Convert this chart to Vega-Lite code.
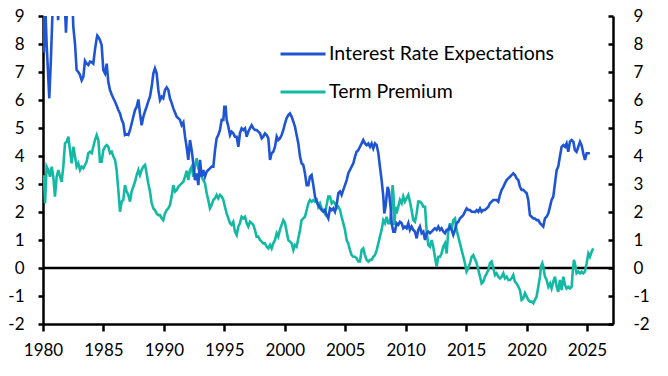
{
  "$schema": "https://vega.github.io/schema/vega-lite/v6.json",
  "width": 570,
  "height": 308,
  "autosize": {"type": "none"},
  "padding": {"left": 43, "top": 16, "right": 55, "bottom": 52},
  "background": "white",
  "config": {
    "view": {"stroke": null},
    "font": "Lato",
    "axis": {
      "grid": false,
      "title": null,
      "domainColor": "#000000",
      "domainWidth": 2.5,
      "tickColor": "#000000",
      "tickWidth": 2.5,
      "labelColor": "#000000",
      "labelFont": "Lato",
      "labelFontSize": 17
    },
    "legend": {
      "orient": "none",
      "legendX": 236,
      "legendY": 14,
      "title": null,
      "padding": 0,
      "symbolType": "stroke",
      "symbolSize": 2025,
      "symbolStrokeWidth": 3,
      "rowPadding": 4,
      "labelOffset": 2,
      "labelLimit": 0,
      "labelFont": "Lato",
      "labelFontSize": 19.5,
      "labelColor": "#000000"
    }
  },
  "datasets": {
    "ire": [
      {"year": 1980.00, "value": 9.6}, {"year": 1980.08, "value": 7.7}, {"year": 1980.17, "value": 9.6}, {"year": 1980.30, "value": 8.0},
      {"year": 1980.52, "value": 6.06}, {"year": 1980.65, "value": 7.4}, {"year": 1980.80, "value": 9.3}, {"year": 1980.95, "value": 11.0},
      {"year": 1981.15, "value": 10.0}, {"year": 1981.25, "value": 8.85}, {"year": 1981.35, "value": 10.5}, {"year": 1981.55, "value": 12.0},
      {"year": 1981.75, "value": 10.0}, {"year": 1981.90, "value": 8.4}, {"year": 1981.98, "value": 9.2}, {"year": 1982.10, "value": 10.5},
      {"year": 1982.30, "value": 10.0}, {"year": 1982.45, "value": 9.3}, {"year": 1982.51, "value": 8.6}, {"year": 1982.65, "value": 8.0},
      {"year": 1982.78, "value": 7.07}, {"year": 1982.92, "value": 7.0}, {"year": 1983.06, "value": 6.9}, {"year": 1983.20, "value": 6.7},
      {"year": 1983.34, "value": 6.83}, {"year": 1983.47, "value": 7.4}, {"year": 1983.61, "value": 7.3}, {"year": 1983.75, "value": 7.25},
      {"year": 1983.89, "value": 7.37}, {"year": 1984.03, "value": 7.35}, {"year": 1984.16, "value": 7.3}, {"year": 1984.30, "value": 7.8},
      {"year": 1984.44, "value": 8.2}, {"year": 1984.49, "value": 8.3}, {"year": 1984.58, "value": 8.25}, {"year": 1984.71, "value": 8.14},
      {"year": 1984.85, "value": 7.96}, {"year": 1984.99, "value": 7.07}, {"year": 1985.13, "value": 6.95}, {"year": 1985.27, "value": 7.3},
      {"year": 1985.40, "value": 6.65}, {"year": 1985.54, "value": 6.36}, {"year": 1985.68, "value": 6.2}, {"year": 1985.82, "value": 6.06},
      {"year": 1985.96, "value": 5.94}, {"year": 1986.09, "value": 5.8}, {"year": 1986.23, "value": 5.64}, {"year": 1986.37, "value": 5.52},
      {"year": 1986.51, "value": 5.29}, {"year": 1986.64, "value": 5.17}, {"year": 1986.78, "value": 4.75}, {"year": 1986.92, "value": 4.78},
      {"year": 1987.06, "value": 4.75}, {"year": 1987.20, "value": 4.93}, {"year": 1987.33, "value": 5.15}, {"year": 1987.47, "value": 5.4},
      {"year": 1987.61, "value": 5.64}, {"year": 1987.75, "value": 5.76}, {"year": 1987.89, "value": 6.02}, {"year": 1988.02, "value": 5.52},
      {"year": 1988.16, "value": 5.1}, {"year": 1988.30, "value": 5.4}, {"year": 1988.44, "value": 5.6}, {"year": 1988.57, "value": 5.76},
      {"year": 1988.71, "value": 5.95}, {"year": 1988.85, "value": 6.12}, {"year": 1988.99, "value": 6.48}, {"year": 1989.13, "value": 6.95},
      {"year": 1989.26, "value": 7.13}, {"year": 1989.40, "value": 6.95}, {"year": 1989.54, "value": 6.36}, {"year": 1989.68, "value": 6.0},
      {"year": 1989.82, "value": 6.12}, {"year": 1989.95, "value": 6.06}, {"year": 1990.09, "value": 6.36}, {"year": 1990.23, "value": 6.45},
      {"year": 1990.37, "value": 6.36}, {"year": 1990.50, "value": 6.06}, {"year": 1990.64, "value": 5.9}, {"year": 1990.78, "value": 5.7},
      {"year": 1990.92, "value": 5.55}, {"year": 1991.06, "value": 5.4}, {"year": 1991.19, "value": 5.35}, {"year": 1991.33, "value": 5.29},
      {"year": 1991.47, "value": 5.1}, {"year": 1991.61, "value": 5.2}, {"year": 1991.75, "value": 4.69}, {"year": 1991.88, "value": 4.33},
      {"year": 1992.02, "value": 3.86}, {"year": 1992.16, "value": 4.57}, {"year": 1992.30, "value": 4.21}, {"year": 1992.43, "value": 3.74},
      {"year": 1992.57, "value": 3.14}, {"year": 1992.71, "value": 3.38}, {"year": 1992.85, "value": 2.96}, {"year": 1992.99, "value": 3.86},
      {"year": 1993.12, "value": 3.26}, {"year": 1993.26, "value": 3.5}, {"year": 1993.40, "value": 3.26}, {"year": 1993.54, "value": 3.44},
      {"year": 1993.67, "value": 3.5}, {"year": 1993.81, "value": 3.56}, {"year": 1993.95, "value": 3.62}, {"year": 1994.09, "value": 3.62},
      {"year": 1994.23, "value": 4.21}, {"year": 1994.36, "value": 4.63}, {"year": 1994.50, "value": 4.75}, {"year": 1994.64, "value": 4.93},
      {"year": 1994.78, "value": 5.29}, {"year": 1994.92, "value": 5.29}, {"year": 1995.00, "value": 5.76}, {"year": 1995.11, "value": 5.76},
      {"year": 1995.19, "value": 5.29}, {"year": 1995.33, "value": 5.05}, {"year": 1995.47, "value": 4.75}, {"year": 1995.60, "value": 4.87},
      {"year": 1995.74, "value": 4.81}, {"year": 1995.88, "value": 4.69}, {"year": 1996.02, "value": 4.69}, {"year": 1996.16, "value": 4.33},
      {"year": 1996.29, "value": 4.81}, {"year": 1996.43, "value": 4.99}, {"year": 1996.57, "value": 4.93}, {"year": 1996.71, "value": 4.99},
      {"year": 1996.85, "value": 4.69}, {"year": 1996.98, "value": 4.87}, {"year": 1997.12, "value": 4.99}, {"year": 1997.26, "value": 5.1},
      {"year": 1997.40, "value": 4.99}, {"year": 1997.53, "value": 4.93}, {"year": 1997.67, "value": 4.93}, {"year": 1997.81, "value": 4.87},
      {"year": 1997.95, "value": 4.81}, {"year": 1998.09, "value": 4.63}, {"year": 1998.22, "value": 4.69}, {"year": 1998.36, "value": 4.81},
      {"year": 1998.50, "value": 4.75}, {"year": 1998.64, "value": 4.63}, {"year": 1998.78, "value": 3.86}, {"year": 1998.91, "value": 4.1},
      {"year": 1999.05, "value": 4.15}, {"year": 1999.19, "value": 4.33}, {"year": 1999.33, "value": 4.69}, {"year": 1999.46, "value": 4.57},
      {"year": 1999.60, "value": 4.63}, {"year": 1999.74, "value": 4.75}, {"year": 1999.88, "value": 4.93}, {"year": 2000.02, "value": 5.17},
      {"year": 2000.15, "value": 5.35}, {"year": 2000.29, "value": 5.46}, {"year": 2000.43, "value": 5.52}, {"year": 2000.57, "value": 5.4},
      {"year": 2000.71, "value": 5.23}, {"year": 2000.84, "value": 5.05}, {"year": 2000.98, "value": 4.75}, {"year": 2001.12, "value": 4.45},
      {"year": 2001.26, "value": 3.98}, {"year": 2001.39, "value": 3.74}, {"year": 2001.53, "value": 3.68}, {"year": 2001.67, "value": 3.38},
      {"year": 2001.81, "value": 2.96}, {"year": 2001.95, "value": 2.96}, {"year": 2002.08, "value": 3.26}, {"year": 2002.22, "value": 3.32},
      {"year": 2002.36, "value": 2.96}, {"year": 2002.50, "value": 2.55}, {"year": 2002.64, "value": 2.37}, {"year": 2002.77, "value": 2.25},
      {"year": 2002.91, "value": 2.15}, {"year": 2003.05, "value": 2.07}, {"year": 2003.19, "value": 2.01}, {"year": 2003.32, "value": 2.07},
      {"year": 2003.46, "value": 1.89}, {"year": 2003.60, "value": 1.77}, {"year": 2003.74, "value": 2.13}, {"year": 2003.88, "value": 2.07},
      {"year": 2004.01, "value": 2.13}, {"year": 2004.15, "value": 2.01}, {"year": 2004.29, "value": 2.25}, {"year": 2004.43, "value": 2.67},
      {"year": 2004.57, "value": 2.73}, {"year": 2004.70, "value": 2.61}, {"year": 2004.84, "value": 2.79}, {"year": 2004.98, "value": 2.96},
      {"year": 2005.12, "value": 3.14}, {"year": 2005.25, "value": 3.38}, {"year": 2005.39, "value": 3.5}, {"year": 2005.53, "value": 3.62},
      {"year": 2005.67, "value": 3.74}, {"year": 2005.81, "value": 3.98}, {"year": 2005.94, "value": 4.15}, {"year": 2006.08, "value": 4.21},
      {"year": 2006.22, "value": 4.33}, {"year": 2006.36, "value": 4.45}, {"year": 2006.49, "value": 4.57}, {"year": 2006.63, "value": 4.45},
      {"year": 2006.77, "value": 4.39}, {"year": 2006.91, "value": 4.45}, {"year": 2007.05, "value": 4.33}, {"year": 2007.18, "value": 4.45},
      {"year": 2007.32, "value": 4.27}, {"year": 2007.46, "value": 4.45}, {"year": 2007.60, "value": 4.39}, {"year": 2007.74, "value": 4.1},
      {"year": 2007.87, "value": 3.62}, {"year": 2008.01, "value": 3.14}, {"year": 2008.15, "value": 2.55}, {"year": 2008.23, "value": 1.95},
      {"year": 2008.34, "value": 2.19}, {"year": 2008.42, "value": 2.55}, {"year": 2008.51, "value": 2.9}, {"year": 2008.62, "value": 2.73},
      {"year": 2008.70, "value": 2.37}, {"year": 2008.78, "value": 2.07}, {"year": 2008.84, "value": 1.6}, {"year": 2008.98, "value": 1.3},
      {"year": 2009.11, "value": 1.3}, {"year": 2009.25, "value": 1.6}, {"year": 2009.39, "value": 1.54}, {"year": 2009.53, "value": 1.65},
      {"year": 2009.67, "value": 1.6}, {"year": 2009.80, "value": 1.42}, {"year": 2009.94, "value": 1.48}, {"year": 2010.08, "value": 1.42},
      {"year": 2010.22, "value": 1.6}, {"year": 2010.35, "value": 1.36}, {"year": 2010.49, "value": 1.48}, {"year": 2010.63, "value": 1.36},
      {"year": 2010.77, "value": 1.3}, {"year": 2010.91, "value": 1.06}, {"year": 2011.04, "value": 1.36}, {"year": 2011.18, "value": 1.48},
      {"year": 2011.32, "value": 1.24}, {"year": 2011.46, "value": 1.3}, {"year": 2011.60, "value": 1.0}, {"year": 2011.73, "value": 1.24},
      {"year": 2011.87, "value": 1.3}, {"year": 2012.01, "value": 1.24}, {"year": 2012.15, "value": 1.3}, {"year": 2012.28, "value": 1.36},
      {"year": 2012.42, "value": 1.42}, {"year": 2012.56, "value": 1.36}, {"year": 2012.70, "value": 1.48}, {"year": 2012.84, "value": 1.36},
      {"year": 2012.97, "value": 1.42}, {"year": 2013.11, "value": 1.3}, {"year": 2013.25, "value": 1.24}, {"year": 2013.39, "value": 1.36},
      {"year": 2013.53, "value": 1.36}, {"year": 2013.66, "value": 1.48}, {"year": 2013.80, "value": 1.36}, {"year": 2013.94, "value": 1.18},
      {"year": 2014.08, "value": 1.36}, {"year": 2014.21, "value": 1.6}, {"year": 2014.35, "value": 1.65}, {"year": 2014.49, "value": 1.77},
      {"year": 2014.63, "value": 1.83}, {"year": 2014.77, "value": 1.89}, {"year": 2014.90, "value": 2.01}, {"year": 2015.04, "value": 2.13},
      {"year": 2015.18, "value": 2.07}, {"year": 2015.32, "value": 2.07}, {"year": 2015.46, "value": 2.01}, {"year": 2015.59, "value": 2.01},
      {"year": 2015.73, "value": 2.0}, {"year": 2015.87, "value": 2.07}, {"year": 2016.01, "value": 2.01}, {"year": 2016.15, "value": 2.13},
      {"year": 2016.28, "value": 2.01}, {"year": 2016.42, "value": 2.07}, {"year": 2016.56, "value": 2.07}, {"year": 2016.70, "value": 2.13},
      {"year": 2016.84, "value": 2.19}, {"year": 2016.97, "value": 2.31}, {"year": 2017.11, "value": 2.37}, {"year": 2017.25, "value": 2.43},
      {"year": 2017.39, "value": 2.43}, {"year": 2017.52, "value": 2.43}, {"year": 2017.66, "value": 2.37}, {"year": 2017.80, "value": 2.61},
      {"year": 2017.94, "value": 2.79}, {"year": 2018.08, "value": 2.9}, {"year": 2018.21, "value": 3.02}, {"year": 2018.35, "value": 3.14},
      {"year": 2018.49, "value": 3.2}, {"year": 2018.63, "value": 3.26}, {"year": 2018.76, "value": 3.32}, {"year": 2018.90, "value": 3.38},
      {"year": 2019.04, "value": 3.32}, {"year": 2019.18, "value": 3.2}, {"year": 2019.32, "value": 3.14}, {"year": 2019.45, "value": 2.9},
      {"year": 2019.59, "value": 2.79}, {"year": 2019.73, "value": 2.79}, {"year": 2019.87, "value": 2.73}, {"year": 2020.01, "value": 2.67},
      {"year": 2020.14, "value": 2.43}, {"year": 2020.23, "value": 2.07}, {"year": 2020.28, "value": 1.89}, {"year": 2020.42, "value": 1.83},
      {"year": 2020.56, "value": 1.77}, {"year": 2020.69, "value": 1.77}, {"year": 2020.83, "value": 1.71}, {"year": 2020.97, "value": 1.71},
      {"year": 2021.11, "value": 1.6}, {"year": 2021.25, "value": 1.54}, {"year": 2021.38, "value": 1.48}, {"year": 2021.52, "value": 1.77},
      {"year": 2021.66, "value": 1.83}, {"year": 2021.80, "value": 1.95}, {"year": 2021.94, "value": 2.19}, {"year": 2022.07, "value": 2.43},
      {"year": 2022.21, "value": 2.55}, {"year": 2022.35, "value": 3.02}, {"year": 2022.49, "value": 3.5}, {"year": 2022.62, "value": 3.62},
      {"year": 2022.76, "value": 3.98}, {"year": 2022.90, "value": 4.33}, {"year": 2023.04, "value": 4.39}, {"year": 2023.18, "value": 4.33},
      {"year": 2023.31, "value": 4.45}, {"year": 2023.45, "value": 4.15}, {"year": 2023.59, "value": 4.51}, {"year": 2023.73, "value": 4.57},
      {"year": 2023.87, "value": 4.51}, {"year": 2024.00, "value": 4.21}, {"year": 2024.14, "value": 4.15}, {"year": 2024.28, "value": 4.33},
      {"year": 2024.42, "value": 4.51}, {"year": 2024.55, "value": 4.39}, {"year": 2024.69, "value": 4.1}, {"year": 2024.83, "value": 3.86},
      {"year": 2024.97, "value": 4.1}, {"year": 2025.11, "value": 4.1}, {"year": 2025.24, "value": 4.1}
    ],
    "tp": [
      {"year": 1980.00, "value": 3.3}, {"year": 1980.08, "value": 3.26}, {"year": 1980.17, "value": 2.31}, {"year": 1980.30, "value": 3.62},
      {"year": 1980.44, "value": 3.5}, {"year": 1980.58, "value": 3.26}, {"year": 1980.72, "value": 3.62}, {"year": 1980.85, "value": 3.26},
      {"year": 1980.99, "value": 2.55}, {"year": 1981.13, "value": 3.26}, {"year": 1981.27, "value": 3.5}, {"year": 1981.41, "value": 3.26},
      {"year": 1981.54, "value": 3.08}, {"year": 1981.68, "value": 3.62}, {"year": 1981.82, "value": 4.45}, {"year": 1981.96, "value": 4.51},
      {"year": 1982.10, "value": 4.69}, {"year": 1982.23, "value": 4.21}, {"year": 1982.37, "value": 3.74}, {"year": 1982.51, "value": 4.33},
      {"year": 1982.65, "value": 3.98}, {"year": 1982.78, "value": 3.62}, {"year": 1982.92, "value": 3.74}, {"year": 1983.06, "value": 3.5},
      {"year": 1983.20, "value": 3.62}, {"year": 1983.34, "value": 3.56}, {"year": 1983.47, "value": 3.68}, {"year": 1983.61, "value": 3.8},
      {"year": 1983.75, "value": 4.1}, {"year": 1983.89, "value": 4.15}, {"year": 1984.03, "value": 4.1}, {"year": 1984.16, "value": 4.33},
      {"year": 1984.30, "value": 4.57}, {"year": 1984.44, "value": 4.75}, {"year": 1984.58, "value": 4.57}, {"year": 1984.71, "value": 3.8},
      {"year": 1984.85, "value": 3.8}, {"year": 1984.99, "value": 4.21}, {"year": 1985.13, "value": 4.33}, {"year": 1985.27, "value": 4.39},
      {"year": 1985.40, "value": 4.33}, {"year": 1985.54, "value": 4.1}, {"year": 1985.68, "value": 4.15}, {"year": 1985.82, "value": 3.98},
      {"year": 1985.96, "value": 3.86}, {"year": 1986.09, "value": 3.5}, {"year": 1986.23, "value": 2.79}, {"year": 1986.37, "value": 2.01},
      {"year": 1986.51, "value": 2.37}, {"year": 1986.64, "value": 2.43}, {"year": 1986.78, "value": 2.96}, {"year": 1986.92, "value": 2.73},
      {"year": 1987.06, "value": 2.61}, {"year": 1987.20, "value": 2.37}, {"year": 1987.33, "value": 2.73}, {"year": 1987.47, "value": 2.9},
      {"year": 1987.61, "value": 3.08}, {"year": 1987.75, "value": 3.32}, {"year": 1987.89, "value": 3.5}, {"year": 1988.02, "value": 3.32},
      {"year": 1988.16, "value": 3.5}, {"year": 1988.30, "value": 3.62}, {"year": 1988.44, "value": 3.68}, {"year": 1988.57, "value": 3.38},
      {"year": 1988.71, "value": 3.02}, {"year": 1988.85, "value": 2.73}, {"year": 1988.99, "value": 2.31}, {"year": 1989.13, "value": 2.13},
      {"year": 1989.26, "value": 2.07}, {"year": 1989.40, "value": 1.95}, {"year": 1989.54, "value": 1.89}, {"year": 1989.68, "value": 1.89},
      {"year": 1989.82, "value": 1.77}, {"year": 1989.95, "value": 1.71}, {"year": 1990.09, "value": 1.95}, {"year": 1990.23, "value": 2.07},
      {"year": 1990.37, "value": 2.13}, {"year": 1990.50, "value": 2.25}, {"year": 1990.64, "value": 2.55}, {"year": 1990.78, "value": 2.96},
      {"year": 1990.92, "value": 2.73}, {"year": 1991.06, "value": 2.79}, {"year": 1991.19, "value": 2.9}, {"year": 1991.33, "value": 2.96},
      {"year": 1991.47, "value": 3.02}, {"year": 1991.61, "value": 3.08}, {"year": 1991.75, "value": 3.26}, {"year": 1991.88, "value": 3.47},
      {"year": 1992.02, "value": 3.14}, {"year": 1992.16, "value": 3.5}, {"year": 1992.30, "value": 3.62}, {"year": 1992.43, "value": 3.26},
      {"year": 1992.57, "value": 3.62}, {"year": 1992.71, "value": 3.92}, {"year": 1992.85, "value": 3.56}, {"year": 1992.99, "value": 3.38},
      {"year": 1993.12, "value": 3.26}, {"year": 1993.26, "value": 3.14}, {"year": 1993.40, "value": 3.02}, {"year": 1993.54, "value": 2.67},
      {"year": 1993.67, "value": 2.43}, {"year": 1993.81, "value": 2.13}, {"year": 1993.95, "value": 2.25}, {"year": 1994.09, "value": 2.43},
      {"year": 1994.23, "value": 2.49}, {"year": 1994.36, "value": 2.61}, {"year": 1994.50, "value": 2.49}, {"year": 1994.64, "value": 2.61},
      {"year": 1994.78, "value": 2.55}, {"year": 1994.92, "value": 2.43}, {"year": 1995.05, "value": 2.19}, {"year": 1995.19, "value": 1.95},
      {"year": 1995.33, "value": 1.77}, {"year": 1995.47, "value": 1.6}, {"year": 1995.60, "value": 1.54}, {"year": 1995.74, "value": 1.65},
      {"year": 1995.88, "value": 1.3}, {"year": 1996.02, "value": 1.18}, {"year": 1996.16, "value": 1.48}, {"year": 1996.29, "value": 1.6},
      {"year": 1996.43, "value": 1.83}, {"year": 1996.57, "value": 1.77}, {"year": 1996.71, "value": 1.83}, {"year": 1996.85, "value": 1.6},
      {"year": 1996.98, "value": 1.48}, {"year": 1997.12, "value": 1.65}, {"year": 1997.26, "value": 1.6}, {"year": 1997.40, "value": 1.54},
      {"year": 1997.53, "value": 1.36}, {"year": 1997.67, "value": 1.12}, {"year": 1997.81, "value": 1.12}, {"year": 1997.95, "value": 1.0},
      {"year": 1998.09, "value": 0.94}, {"year": 1998.22, "value": 0.88}, {"year": 1998.36, "value": 0.88}, {"year": 1998.50, "value": 0.76},
      {"year": 1998.64, "value": 0.7}, {"year": 1998.78, "value": 0.82}, {"year": 1998.91, "value": 0.7}, {"year": 1999.05, "value": 0.88},
      {"year": 1999.19, "value": 1.0}, {"year": 1999.33, "value": 1.24}, {"year": 1999.46, "value": 1.12}, {"year": 1999.60, "value": 1.36},
      {"year": 1999.74, "value": 1.54}, {"year": 1999.88, "value": 1.71}, {"year": 2000.02, "value": 1.6}, {"year": 2000.15, "value": 1.3},
      {"year": 2000.29, "value": 1.0}, {"year": 2000.43, "value": 0.94}, {"year": 2000.57, "value": 0.88}, {"year": 2000.71, "value": 0.64},
      {"year": 2000.84, "value": 0.82}, {"year": 2000.98, "value": 0.76}, {"year": 2001.12, "value": 1.06}, {"year": 2001.26, "value": 1.36},
      {"year": 2001.39, "value": 1.71}, {"year": 2001.53, "value": 1.77}, {"year": 2001.67, "value": 1.83}, {"year": 2001.81, "value": 2.07},
      {"year": 2001.95, "value": 2.31}, {"year": 2002.08, "value": 2.43}, {"year": 2002.22, "value": 2.37}, {"year": 2002.36, "value": 2.43},
      {"year": 2002.50, "value": 2.37}, {"year": 2002.64, "value": 2.43}, {"year": 2002.77, "value": 2.19}, {"year": 2002.91, "value": 2.31},
      {"year": 2003.05, "value": 2.13}, {"year": 2003.19, "value": 2.07}, {"year": 2003.32, "value": 1.95}, {"year": 2003.46, "value": 2.25},
      {"year": 2003.60, "value": 2.55}, {"year": 2003.74, "value": 2.55}, {"year": 2003.88, "value": 2.31}, {"year": 2004.01, "value": 2.37},
      {"year": 2004.15, "value": 2.31}, {"year": 2004.29, "value": 2.13}, {"year": 2004.43, "value": 2.19}, {"year": 2004.57, "value": 2.07},
      {"year": 2004.70, "value": 1.83}, {"year": 2004.84, "value": 1.6}, {"year": 2004.98, "value": 1.36}, {"year": 2005.12, "value": 1.0},
      {"year": 2005.25, "value": 0.88}, {"year": 2005.39, "value": 0.64}, {"year": 2005.53, "value": 0.46}, {"year": 2005.67, "value": 0.4},
      {"year": 2005.81, "value": 0.4}, {"year": 2005.94, "value": 0.35}, {"year": 2006.08, "value": 0.23}, {"year": 2006.22, "value": 0.23},
      {"year": 2006.36, "value": 0.64}, {"year": 2006.49, "value": 0.7}, {"year": 2006.63, "value": 0.46}, {"year": 2006.77, "value": 0.29},
      {"year": 2006.91, "value": 0.23}, {"year": 2007.05, "value": 0.29}, {"year": 2007.18, "value": 0.29}, {"year": 2007.32, "value": 0.4},
      {"year": 2007.46, "value": 0.46}, {"year": 2007.60, "value": 0.64}, {"year": 2007.74, "value": 0.88}, {"year": 2007.87, "value": 1.12},
      {"year": 2008.01, "value": 1.36}, {"year": 2008.15, "value": 1.71}, {"year": 2008.29, "value": 1.6}, {"year": 2008.42, "value": 1.83},
      {"year": 2008.56, "value": 1.6}, {"year": 2008.70, "value": 1.6}, {"year": 2008.84, "value": 2.31}, {"year": 2008.92, "value": 2.96},
      {"year": 2009.00, "value": 2.55}, {"year": 2009.06, "value": 1.54}, {"year": 2009.17, "value": 2.19}, {"year": 2009.25, "value": 1.95},
      {"year": 2009.39, "value": 2.19}, {"year": 2009.53, "value": 2.43}, {"year": 2009.67, "value": 2.31}, {"year": 2009.80, "value": 2.55},
      {"year": 2009.94, "value": 2.37}, {"year": 2010.08, "value": 2.49}, {"year": 2010.22, "value": 2.61}, {"year": 2010.35, "value": 2.37},
      {"year": 2010.49, "value": 2.07}, {"year": 2010.63, "value": 1.71}, {"year": 2010.77, "value": 1.65}, {"year": 2010.91, "value": 1.95},
      {"year": 2011.04, "value": 2.37}, {"year": 2011.18, "value": 2.37}, {"year": 2011.32, "value": 2.31}, {"year": 2011.46, "value": 2.19},
      {"year": 2011.60, "value": 2.19}, {"year": 2011.73, "value": 1.36}, {"year": 2011.87, "value": 0.82}, {"year": 2012.01, "value": 0.76},
      {"year": 2012.15, "value": 1.0}, {"year": 2012.28, "value": 0.76}, {"year": 2012.42, "value": 0.4}, {"year": 2012.56, "value": 0.05},
      {"year": 2012.70, "value": 0.4}, {"year": 2012.84, "value": 0.4}, {"year": 2012.97, "value": 0.52}, {"year": 2013.11, "value": 0.76},
      {"year": 2013.25, "value": 0.88}, {"year": 2013.39, "value": 0.52}, {"year": 2013.53, "value": 1.36}, {"year": 2013.66, "value": 1.6},
      {"year": 2013.80, "value": 1.36}, {"year": 2013.94, "value": 1.71}, {"year": 2014.08, "value": 1.77}, {"year": 2014.21, "value": 1.36},
      {"year": 2014.35, "value": 1.12}, {"year": 2014.49, "value": 0.88}, {"year": 2014.63, "value": 0.64}, {"year": 2014.77, "value": 0.4},
      {"year": 2014.90, "value": 0.17}, {"year": 2015.04, "value": -0.13}, {"year": 2015.18, "value": -0.01}, {"year": 2015.32, "value": 0.17},
      {"year": 2015.46, "value": 0.4}, {"year": 2015.59, "value": 0.46}, {"year": 2015.73, "value": 0.32}, {"year": 2015.87, "value": 0.17},
      {"year": 2016.01, "value": -0.07}, {"year": 2016.15, "value": -0.31}, {"year": 2016.28, "value": -0.55}, {"year": 2016.42, "value": -0.49},
      {"year": 2016.56, "value": -0.31}, {"year": 2016.70, "value": -0.19}, {"year": 2016.84, "value": -0.07}, {"year": 2016.97, "value": 0.17},
      {"year": 2017.11, "value": 0.23}, {"year": 2017.25, "value": -0.01}, {"year": 2017.39, "value": -0.25}, {"year": 2017.52, "value": -0.19},
      {"year": 2017.66, "value": -0.31}, {"year": 2017.80, "value": -0.37}, {"year": 2017.94, "value": -0.31}, {"year": 2018.08, "value": -0.19},
      {"year": 2018.21, "value": -0.37}, {"year": 2018.35, "value": -0.31}, {"year": 2018.49, "value": -0.43}, {"year": 2018.63, "value": -0.43},
      {"year": 2018.76, "value": -0.37}, {"year": 2018.90, "value": -0.25}, {"year": 2019.04, "value": -0.49}, {"year": 2019.18, "value": -0.55},
      {"year": 2019.32, "value": -0.67}, {"year": 2019.45, "value": -0.79}, {"year": 2019.59, "value": -1.14}, {"year": 2019.73, "value": -1.08},
      {"year": 2019.87, "value": -0.9}, {"year": 2020.01, "value": -1.02}, {"year": 2020.14, "value": -1.14}, {"year": 2020.28, "value": -1.2},
      {"year": 2020.42, "value": -1.2}, {"year": 2020.56, "value": -1.26}, {"year": 2020.69, "value": -1.14}, {"year": 2020.83, "value": -1.02},
      {"year": 2020.97, "value": -0.67}, {"year": 2021.11, "value": -0.31}, {"year": 2021.19, "value": 0.05}, {"year": 2021.30, "value": 0.17},
      {"year": 2021.38, "value": 0.05}, {"year": 2021.52, "value": -0.31}, {"year": 2021.66, "value": -0.43}, {"year": 2021.80, "value": -0.67},
      {"year": 2021.94, "value": -0.55}, {"year": 2022.07, "value": -0.73}, {"year": 2022.21, "value": -0.49}, {"year": 2022.35, "value": -0.31},
      {"year": 2022.49, "value": -0.67}, {"year": 2022.62, "value": -0.85}, {"year": 2022.76, "value": -0.43}, {"year": 2022.90, "value": -0.79},
      {"year": 2023.04, "value": -0.31}, {"year": 2023.18, "value": -0.61}, {"year": 2023.31, "value": -0.73}, {"year": 2023.45, "value": -0.67},
      {"year": 2023.59, "value": -0.73}, {"year": 2023.73, "value": -0.67}, {"year": 2023.81, "value": -0.19}, {"year": 2023.92, "value": 0.29},
      {"year": 2024.00, "value": 0.17}, {"year": 2024.14, "value": -0.19}, {"year": 2024.28, "value": -0.13}, {"year": 2024.42, "value": -0.19},
      {"year": 2024.55, "value": -0.13}, {"year": 2024.69, "value": -0.19}, {"year": 2024.83, "value": -0.13}, {"year": 2024.97, "value": 0.17},
      {"year": 2025.11, "value": 0.52}, {"year": 2025.24, "value": 0.4}, {"year": 2025.38, "value": 0.58}, {"year": 2025.52, "value": 0.7}
    ]
  },
  "layer": [
    {
      "data": {"values": [{"zero": 0}]},
      "mark": {"type": "rule", "color": "#000000", "strokeWidth": 2.5},
      "encoding": {
        "y": {
          "field": "zero",
          "type": "quantitative",
          "scale": {"domain": [-2, 9], "nice": false, "zero": false},
          "axis": {
            "orient": "left",
            "values": [-2, -1, 0, 1, 2, 3, 4, 5, 6, 7, 8, 9],
            "labelExpr": "'' + datum.value",
            "tickSize": 5,
            "labelPadding": 14
          }
        }
      }
    },
    {
      "data": {"name": "tp"},
      "mark": {"type": "line", "strokeWidth": 2.6, "clip": true},
      "encoding": {
        "x": {
          "field": "year",
          "type": "quantitative",
          "scale": {"domain": [1980, 2027.15], "nice": false, "zero": false},
          "axis": {
            "values": [1980, 1985, 1990, 1995, 2000, 2005, 2010, 2015, 2020, 2025],
            "format": "d",
            "labelFlush": false,
            "labelOverlap": false,
            "tickSize": 7,
            "labelPadding": 11
          }
        },
        "y": {
          "field": "value",
          "type": "quantitative",
          "scale": {"domain": [-2, 9], "nice": false, "zero": false},
          "axis": {
            "orient": "right",
            "values": [-2, -1, 0, 1, 2, 3, 4, 5, 6, 7, 8, 9],
            "labelExpr": "'' + datum.value",
            "tickSize": -5,
            "labelPadding": 25
          }
        },
        "color": {
          "datum": "Term Premium",
          "type": "nominal",
          "scale": {"domain": ["Interest Rate Expectations", "Term Premium"], "range": ["#1f55d2", "#14b9a3"]}
        }
      }
    },
    {
      "data": {"name": "ire"},
      "mark": {"type": "line", "strokeWidth": 2.6, "clip": true},
      "encoding": {
        "x": {"field": "year", "type": "quantitative"},
        "y": {
          "field": "value",
          "type": "quantitative",
          "scale": {"domain": [-2, 9], "nice": false, "zero": false},
          "axis": null
        },
        "color": {"datum": "Interest Rate Expectations", "type": "nominal"}
      }
    }
  ],
  "resolve": {"scale": {"y": "independent"}, "axis": {"y": "independent"}}
}
